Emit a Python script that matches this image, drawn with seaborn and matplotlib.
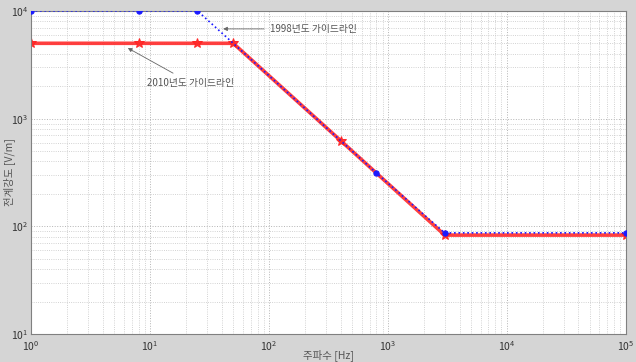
import matplotlib
matplotlib.use("Agg")
import matplotlib.pyplot as plt
import seaborn as sns

# ICNIRP guideline values
freq_1998 = [1, 8, 25, 800, 3000, 100000]
field_1998 = [10000, 10000, 10000, 312.5, 87, 87]

freq_2010 = [1, 8, 25, 50, 400, 3000, 100000]
field_2010 = [5000, 5000, 5000, 5000, 625, 83, 83]

label_1998 = "1998년도 가이드라인"
label_2010 = "2010년도 가이드라인"
xlabel = "주파수 [Hz]"
ylabel = "전계강도 [V/m]"

sns.set_theme(style="white")
plt.rcParams["font.family"] = ["Noto Sans CJK KR", "DejaVu Sans"]
plt.rcParams["mathtext.fontset"] = "dejavusans"

fig = plt.figure(figsize=(6.36, 3.62), dpi=100, facecolor="#d5d5d5")
ax = fig.add_axes([0.049, 0.077, 0.935, 0.893])
ax.set_facecolor("white")

sns.lineplot(x=freq_2010, y=field_2010, ax=ax, color="#ff2a2a", linewidth=2.6,
             marker="*", markersize=7, markeredgecolor="#ff2020", alpha=0.9,
             sort=False, zorder=2)
sns.lineplot(x=freq_1998, y=field_1998, ax=ax, color="#1a1aff", linewidth=1.2,
             linestyle=":", marker="o", markersize=3.8, markeredgecolor="#1a1aff",
             sort=False, zorder=3)

ax.set_xscale("log")
ax.set_yscale("log")
ax.set_xlim(1, 1e5)
ax.set_ylim(10, 1e4)

ax.grid(True, which="major", color="#b4b4b4", linestyle=":", linewidth=0.7)
ax.grid(True, which="minor", color="#c4c4c4", linestyle=":", linewidth=0.6)
ax.tick_params(axis="both", which="major", labelsize=7.5, colors="#333333",
               length=0)
ax.tick_params(axis="x", which="major", pad=4)
ax.tick_params(axis="y", which="major", pad=2)
ax.tick_params(axis="both", which="minor", length=0)
for spine in ax.spines.values():
    spine.set_color("#808080")
    spine.set_linewidth(0.8)

ax.set_xlabel(xlabel, fontsize=7.5, color="#555555", va="center")
ax.set_ylabel(ylabel, fontsize=7.5, color="#555555", va="center")
ax.xaxis.set_label_coords(0.5, -0.066)
ax.yaxis.set_label_coords(-0.038, 0.5)

ax.annotate(label_1998, xy=(39, 6800), xytext=(102, 6800),
            fontsize=7, color="#555555", va="center", ha="left",
            arrowprops=dict(arrowstyle="-|>", color="#666666", lw=0.6,
                            mutation_scale=6))
ax.annotate(label_2010, xy=(6.2, 4650), xytext=(9.4, 2150),
            fontsize=7, color="#555555", va="center", ha="left",
            arrowprops=dict(arrowstyle="-|>", color="#666666", lw=0.6,
                            mutation_scale=6, shrinkA=2))

fig.savefig("out.png", dpi=100, facecolor=fig.get_facecolor())
